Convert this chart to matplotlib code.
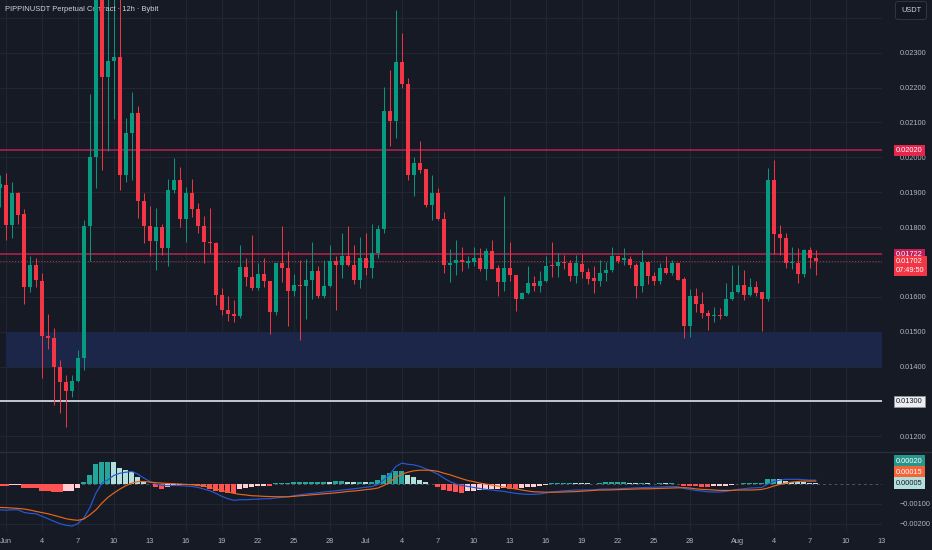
import matplotlib
matplotlib.use("Agg")
import matplotlib.pyplot as plt
import matplotlib.dates as mdates
from matplotlib.lines import Line2D
from matplotlib.patches import Rectangle
from matplotlib.transforms import blended_transform_factory
import numpy as np
import pandas as pd

plt.rcParams['font.family'] = ['Liberation Sans', 'DejaVu Sans']

# 12h candles, first one 31 May 12:00 (only half visible)
opens = [0.01912, 0.01921, 0.01806, 0.01899, 0.01838, 0.01628, 0.01690, 0.01646, 0.01488, 0.01481,
         0.01400, 0.01355, 0.01329, 0.01360, 0.01424, 0.01804, 0.02000, 0.02520, 0.02231, 0.02277,
         0.02287, 0.01948, 0.02069, 0.02128, 0.01875, 0.01804, 0.01759, 0.01799, 0.01740, 0.01905,
         0.01934, 0.01823, 0.01899, 0.01852, 0.01804, 0.01756, 0.01753, 0.01606, 0.01563, 0.01550,
         0.01545, 0.01685, 0.01658, 0.01625, 0.01666, 0.01644, 0.01555, 0.01697, 0.01682, 0.01618,
         0.01634, 0.01632, 0.01647, 0.01673, 0.01603, 0.01632, 0.01704, 0.01690, 0.01718, 0.01692,
         0.01647, 0.01712, 0.01682, 0.01725, 0.01795, 0.02133, 0.02105, 0.02274, 0.02210, 0.01948,
         0.01983, 0.01966, 0.01864, 0.01897, 0.01823, 0.01692, 0.01698, 0.01706, 0.01698, 0.01701,
         0.01710, 0.01679, 0.01732, 0.01682, 0.01641, 0.01682, 0.01663, 0.01593, 0.01611, 0.01639,
         0.01632, 0.01644, 0.01689, 0.01687, 0.01701, 0.01698, 0.01660, 0.01695, 0.01670, 0.01654,
         0.01644, 0.01668, 0.01676, 0.01716, 0.01706, 0.01708, 0.01692, 0.01632, 0.01701, 0.01660,
         0.01644, 0.01682, 0.01668, 0.01697, 0.01651, 0.01515, 0.01603, 0.01580, 0.01553, 0.01544,
         0.01549, 0.01546, 0.01594, 0.01613, 0.01634, 0.01606, 0.01628, 0.01613, 0.01593, 0.01935,
         0.01781, 0.01768, 0.01697, 0.01697, 0.01666, 0.01735, 0.01711]
highs = [0.01949, 0.01954, 0.01928, 0.01900, 0.01851, 0.01718, 0.01711, 0.01668, 0.01551, 0.01510,
         0.01418, 0.01377, 0.01377, 0.01448, 0.01821, 0.02182, 0.02560, 0.02580, 0.02480, 0.02490,
         0.02460, 0.02112, 0.02188, 0.02147, 0.01899, 0.01861, 0.01854, 0.01809, 0.01937, 0.01997,
         0.01972, 0.01916, 0.01937, 0.01868, 0.01832, 0.01854, 0.01756, 0.01625, 0.01603, 0.01591,
         0.01749, 0.01711, 0.01778, 0.01698, 0.01711, 0.01646, 0.01697, 0.01802, 0.01730, 0.01666,
         0.01706, 0.01708, 0.01756, 0.01687, 0.01706, 0.01749, 0.01716, 0.01783, 0.01802, 0.01749,
         0.01771, 0.01783, 0.01808, 0.01806, 0.02201, 0.02251, 0.02422, 0.02356, 0.02226, 0.02002,
         0.02047, 0.01966, 0.01950, 0.01911, 0.01843, 0.01737, 0.01762, 0.01744, 0.01718, 0.01742,
         0.01740, 0.01740, 0.01762, 0.01692, 0.01888, 0.01756, 0.01663, 0.01613, 0.01689, 0.01660,
         0.01673, 0.01716, 0.01756, 0.01727, 0.01720, 0.01706, 0.01720, 0.01723, 0.01682, 0.01687,
         0.01706, 0.01701, 0.01744, 0.01716, 0.01740, 0.01718, 0.01697, 0.01733, 0.01701, 0.01670,
         0.01697, 0.01716, 0.01706, 0.01697, 0.01658, 0.01622, 0.01625, 0.01613, 0.01563, 0.01572,
         0.01568, 0.01639, 0.01692, 0.01692, 0.01677, 0.01654, 0.01644, 0.01613, 0.01969, 0.01993,
         0.01806, 0.01783, 0.01744, 0.01740, 0.01737, 0.01744, 0.01735]
lows = [0.01857, 0.01763, 0.01768, 0.01810, 0.01580, 0.01613, 0.01628, 0.01367, 0.01450, 0.01291,
        0.01267, 0.01227, 0.01313, 0.01355, 0.01389, 0.01704, 0.01911, 0.01964, 0.02017, 0.02110,
        0.01907, 0.01928, 0.01935, 0.01826, 0.01754, 0.01718, 0.01677, 0.01720, 0.01687, 0.01897,
        0.01800, 0.01756, 0.01830, 0.01783, 0.01698, 0.01725, 0.01577, 0.01549, 0.01532, 0.01527,
        0.01539, 0.01630, 0.01620, 0.01620, 0.01628, 0.01493, 0.01549, 0.01641, 0.01515, 0.01601,
        0.01477, 0.01536, 0.01593, 0.01596, 0.01596, 0.01628, 0.01563, 0.01654, 0.01687, 0.01637,
        0.01625, 0.01663, 0.01654, 0.01711, 0.01784, 0.02031, 0.02055, 0.02198, 0.01935, 0.01889,
        0.01956, 0.01857, 0.01819, 0.01819, 0.01668, 0.01641, 0.01663, 0.01673, 0.01682, 0.01689,
        0.01675, 0.01649, 0.01679, 0.01603, 0.01618, 0.01644, 0.01558, 0.01593, 0.01609, 0.01618,
        0.01613, 0.01641, 0.01658, 0.01658, 0.01679, 0.01644, 0.01639, 0.01654, 0.01637, 0.01611,
        0.01630, 0.01644, 0.01670, 0.01697, 0.01692, 0.01682, 0.01596, 0.01615, 0.01637, 0.01634,
        0.01637, 0.01666, 0.01663, 0.01647, 0.01482, 0.01485, 0.01555, 0.01539, 0.01506, 0.01529,
        0.01537, 0.01546, 0.01592, 0.01611, 0.01592, 0.01601, 0.01603, 0.01501, 0.01587, 0.01723,
        0.01720, 0.01682, 0.01679, 0.01639, 0.01658, 0.01682, 0.01663]
closes = [0.01924, 0.01806, 0.01899, 0.01835, 0.01628, 0.01690, 0.01647, 0.01488, 0.01481, 0.01400,
          0.01355, 0.01329, 0.01360, 0.01424, 0.01804, 0.02000, 0.02520, 0.02231, 0.02277, 0.02287,
          0.01948, 0.02069, 0.02128, 0.01875, 0.01804, 0.01759, 0.01799, 0.01740, 0.01905, 0.01934,
          0.01823, 0.01899, 0.01852, 0.01804, 0.01756, 0.01753, 0.01606, 0.01563, 0.01550, 0.01545,
          0.01685, 0.01658, 0.01625, 0.01666, 0.01644, 0.01555, 0.01697, 0.01682, 0.01618, 0.01634,
          0.01632, 0.01647, 0.01673, 0.01603, 0.01632, 0.01704, 0.01690, 0.01716, 0.01690, 0.01647,
          0.01712, 0.01682, 0.01725, 0.01795, 0.02133, 0.02105, 0.02274, 0.02210, 0.01948, 0.01983,
          0.01964, 0.01864, 0.01897, 0.01823, 0.01692, 0.01698, 0.01706, 0.01700, 0.01703, 0.01710,
          0.01679, 0.01732, 0.01679, 0.01641, 0.01682, 0.01662, 0.01593, 0.01611, 0.01639, 0.01632,
          0.01646, 0.01689, 0.01687, 0.01701, 0.01697, 0.01660, 0.01697, 0.01670, 0.01651, 0.01644,
          0.01668, 0.01676, 0.01716, 0.01704, 0.01711, 0.01692, 0.01632, 0.01701, 0.01660, 0.01644,
          0.01682, 0.01668, 0.01697, 0.01649, 0.01515, 0.01603, 0.01580, 0.01553, 0.01544, 0.01549,
          0.01546, 0.01594, 0.01613, 0.01634, 0.01606, 0.01628, 0.01611, 0.01593, 0.01935, 0.01781,
          0.01768, 0.01697, 0.01699, 0.01666, 0.01735, 0.01711, 0.01702]

# MACD panel (one value per candle)
hist = [-0.00010, -0.00012, -0.00005, -0.00003, -0.00018, -0.00019, -0.00020, -0.00034, -0.00037, -0.00040,
        -0.00041, -0.00037, -0.00034, -0.00020, 0.00013, 0.00044, 0.00100, 0.00110, 0.00114, 0.00110,
        0.00080, 0.00072, 0.00060, 0.00034, 0.00013, 0.00002, -0.00013, -0.00024, -0.00017, -0.00007,
        -0.00005, -0.00004, -0.00003, -0.00008, -0.00017, -0.00024, -0.00034, -0.00040, -0.00044, -0.00045,
        -0.00027, -0.00020, -0.00017, -0.00012, -0.00008, -0.00012, 0.00003, 0.00005, 0.00006, 0.00008,
        0.00009, 0.00010, 0.00011, 0.00012, 0.00013, 0.00013, 0.00014, 0.00015, 0.00013, 0.00010,
        0.00011, 0.00010, 0.00013, 0.00020, 0.00044, 0.00054, 0.00067, 0.00068, 0.00047, 0.00034,
        0.00022, 0.00010, 0.00001, -0.00017, -0.00029, -0.00037, -0.00042, -0.00043, -0.00037, -0.00034,
        -0.00029, -0.00028, -0.00027, -0.00024, -0.00020, -0.00024, -0.00027, -0.00020, -0.00017, -0.00013,
        -0.00010, -0.00007, 0.00003, 0.00004, 0.00006, 0.00007, 0.00007, 0.00005, 0.00003, 0.00002,
        0.00006, 0.00008, 0.00009, 0.00010, 0.00011, 0.00007, 0.00005, 0.00006, 0.00003, 0.00002,
        0.00003, 0.00003, 0.00004, 0.00000, -0.00008, -0.00010, -0.00012, -0.00013, -0.00014, -0.00011,
        -0.00010, -0.00008, -0.00004, 0.00002, 0.00003, 0.00004, 0.00005, 0.00006, 0.00024, 0.00025,
        0.00024, 0.00017, 0.00012, 0.00010, 0.00008, 0.00007, 0.00005]
macd = [-0.00130, -0.00132, -0.00130, -0.00130, -0.00143, -0.00148, -0.00150, -0.00163, -0.00175, -0.00188,
        -0.00200, -0.00208, -0.00212, -0.00200, -0.00170, -0.00118, -0.00045, 0.00005, 0.00022, 0.00044,
        0.00055, 0.00060, 0.00064, 0.00050, 0.00030, 0.00013, 0.00000, -0.00007, -0.00008, -0.00007,
        -0.00008, -0.00010, -0.00012, -0.00017, -0.00025, -0.00034, -0.00047, -0.00062, -0.00074, -0.00082,
        -0.00079, -0.00079, -0.00077, -0.00076, -0.00074, -0.00074, -0.00070, -0.00067, -0.00064, -0.00059,
        -0.00054, -0.00050, -0.00047, -0.00044, -0.00040, -0.00037, -0.00034, -0.00030, -0.00027, -0.00024,
        -0.00020, -0.00016, -0.00012, -0.00003, 0.00022, 0.00050, 0.00089, 0.00106, 0.00100, 0.00097,
        0.00089, 0.00077, 0.00064, 0.00050, 0.00030, 0.00013, 0.00000, -0.00007, -0.00012, -0.00017,
        -0.00022, -0.00027, -0.00030, -0.00034, -0.00037, -0.00042, -0.00047, -0.00050, -0.00052, -0.00052,
        -0.00050, -0.00045, -0.00040, -0.00037, -0.00034, -0.00032, -0.00030, -0.00030, -0.00029, -0.00029,
        -0.00026, -0.00025, -0.00025, -0.00024, -0.00022, -0.00021, -0.00019, -0.00018, -0.00017, -0.00016,
        -0.00015, -0.00014, -0.00013, -0.00013, -0.00022, -0.00027, -0.00032, -0.00035, -0.00039, -0.00040,
        -0.00040, -0.00037, -0.00032, -0.00027, -0.00024, -0.00020, -0.00019, -0.00017, 0.00000, 0.00013,
        0.00020, 0.00024, 0.00024, 0.00024, 0.00022, 0.00020, 0.00020]
signal = [-0.00118, -0.00119, -0.00121, -0.00123, -0.00126, -0.00131, -0.00138, -0.00144, -0.00150, -0.00158,
          -0.00166, -0.00175, -0.00180, -0.00183, -0.00176, -0.00155, -0.00130, -0.00096, -0.00067, -0.00045,
          -0.00025, -0.00008, 0.00005, 0.00013, 0.00013, 0.00010, 0.00007, 0.00005, 0.00003, 0.00002,
          0.00000, -0.00002, -0.00003, -0.00007, -0.00010, -0.00017, -0.00024, -0.00032, -0.00040, -0.00047,
          -0.00052, -0.00055, -0.00059, -0.00060, -0.00062, -0.00063, -0.00064, -0.00064, -0.00064, -0.00062,
          -0.00059, -0.00057, -0.00054, -0.00052, -0.00049, -0.00047, -0.00044, -0.00041, -0.00037, -0.00035,
          -0.00032, -0.00028, -0.00025, -0.00020, -0.00007, 0.00010, 0.00034, 0.00050, 0.00060, 0.00067,
          0.00070, 0.00070, 0.00069, 0.00064, 0.00055, 0.00047, 0.00037, 0.00027, 0.00018, 0.00012,
          0.00005, 0.00000, -0.00005, -0.00010, -0.00015, -0.00020, -0.00025, -0.00030, -0.00035, -0.00039,
          -0.00040, -0.00041, -0.00041, -0.00041, -0.00040, -0.00039, -0.00038, -0.00036, -0.00034, -0.00032,
          -0.00030, -0.00030, -0.00029, -0.00028, -0.00027, -0.00026, -0.00025, -0.00024, -0.00024, -0.00023,
          -0.00022, -0.00021, -0.00020, -0.00019, -0.00018, -0.00020, -0.00024, -0.00027, -0.00028, -0.00030,
          -0.00032, -0.00032, -0.00032, -0.00030, -0.00030, -0.00030, -0.00029, -0.00027, -0.00020, -0.00010,
          -0.00002, 0.00005, 0.00010, 0.00013, 0.00015, 0.00015, 0.00015]

# levels drawn on the chart
resistance = 0.02020
pivot = 0.01722
support = 0.01300
demand_zone = (0.01400, 0.01500)
last_price = 0.01702
countdown = "07:49:50"
macd_labels = ["0.00020", "0.00015", "0.00005"]

# 0.017 and 0.013 sit under the price boxes, 0.024 under the USDT badge
price_ticks = [0.012, 0.013, 0.014, 0.015, 0.016, 0.017, 0.018, 0.019, 0.020, 0.021, 0.022, 0.023, 0.024]
price_tick_labels = ["0.01200", "", "0.01400", "0.01500", "0.01600", "", "0.01800",
                     "0.01900", "0.02000", "0.02100", "0.02200", "0.02300", ""]
macd_ticks = [-0.002, -0.001]
macd_tick_labels = ["\u22120.00200", "\u22120.00100"]
date_ticks = ["2025-06-01", "2025-06-04", "2025-06-07", "2025-06-10", "2025-06-13", "2025-06-16",
              "2025-06-19", "2025-06-22", "2025-06-25", "2025-06-28", "2025-07-01", "2025-07-04",
              "2025-07-07", "2025-07-10", "2025-07-13", "2025-07-16", "2025-07-19", "2025-07-22",
              "2025-07-25", "2025-07-28", "2025-08-01", "2025-08-04", "2025-08-07", "2025-08-10",
              "2025-08-13"]
date_tick_labels = ["Jun", "4", "7", "10", "13", "16", "19", "22", "25", "28", "Jul", "4", "7", "10",
                    "13", "16", "19", "22", "25", "28", "Aug", "4", "7", "10", "13"]

BG = "#161a25"
GRID = "#232733"
TXT = "#b2b5be"
UP = "#089981"
DOWN = "#f23645"
FS = 5.3

times = pd.date_range("2025-05-31 12:00", periods=len(opens), freq="12h")
x = mdates.date2num(times)
xt = mdates.date2num(pd.to_datetime(date_ticks))
o, h, l, c = map(np.array, (opens, highs, lows, closes))

fig = plt.figure(figsize=(9.32, 5.5), dpi=100, facecolor=BG)
W, H = 932, 550
ax = fig.add_axes([0, 98 / H, 882 / W, 452 / H], facecolor=BG)
mx = fig.add_axes([0, 19 / H, 882 / W, 79 / H], facecolor=BG, sharex=ax)

# ---- price panel
ax.set_ylim(0.01155, 0.02451)
ax.set_xlim(mdates.date2num(pd.Timestamp("2025-05-31 12:00")),
            mdates.date2num(pd.Timestamp("2025-08-13 00:30")))

ax.add_patch(Rectangle((xt[0], demand_zone[0]), xt[-1] - xt[0], demand_zone[1] - demand_zone[0],
                       facecolor="#1b2649", edgecolor="none", zorder=1))
ax.axhline(resistance, color="#a8234f", lw=1.2, zorder=2)
ax.axhline(pivot, color="#a8234f", lw=1.2, zorder=2)
ax.axhline(support, color="#d1d4dc", lw=1.3, zorder=2)
ax.axhline(last_price, color=DOWN, lw=0.7, ls=(0, (1, 2)), alpha=0.8, zorder=2)

cols = np.where(c >= o, UP, DOWN)
ax.vlines(x, l, h, colors=cols, lw=0.7, zorder=3)
ax.bar(x, np.maximum(np.abs(c - o), 0.00003), bottom=np.minimum(o, c), width=0.34,
       color=cols, linewidth=0, zorder=4)

ax.set_yticks(price_ticks, price_tick_labels)
ax.yaxis.tick_right()
ax.set_xticks(xt)
ax.tick_params(axis="y", length=0, pad=13, labelsize=FS, labelcolor=TXT)
ax.tick_params(axis="x", length=0, labelbottom=False)
ax.grid(True, color=GRID, lw=0.7)
ax.set_axisbelow(True)
for s in ax.spines.values():
    s.set_visible(False)

ax.text(0.006, 0.978, "PIPPINUSDT Perpetual Contract \u00b7 12h \u00b7 Bybit", transform=ax.transAxes,
        color="#d1d4dc", fontsize=5.4, va="center", ha="left")

tr = blended_transform_factory(ax.transAxes, ax.transData)
lbl = dict(transform=tr, fontsize=FS, ha="left", va="center", zorder=20, clip_on=False)
ax.text(1.016, resistance, f"{resistance:.5f}", color="white",
        bbox=dict(boxstyle="square,pad=0.3", fc="#e3264e", ec="none"), **lbl)
ax.text(1.016, pivot, f"{pivot:.5f}", color="white",
        bbox=dict(boxstyle="square,pad=0.3", fc="#c41f58", ec="none"), **lbl)
ax.annotate(f"{last_price:.5f}\n{countdown}", (1.016, last_price), xytext=(0, -3.4),
            textcoords="offset points", xycoords=tr, color="white", fontsize=FS, ha="left",
            va="center", linespacing=1.3, zorder=20, annotation_clip=False,
            bbox=dict(boxstyle="square,pad=0.3", fc=DOWN, ec="none"))
ax.text(1.016, support, f"{support:.5f}", color="#131722",
        bbox=dict(boxstyle="square,pad=0.3", fc="#eceef2", ec="#9598a1", lw=0.5), **lbl)

fig.text(911 / W, 1 - 10.5 / H, "USDT", color="#d1d4dc", fontsize=FS, ha="center", va="center",
         bbox=dict(boxstyle="round,pad=0.75,rounding_size=0.4", fc="#131722", ec="#363a45", lw=0.6))

# ---- MACD panel
hcols = []
for i, v in enumerate(hist):
    prev = hist[i - 1] if i > 0 else v
    if v >= 0:
        hcols.append("#26a69a" if v > prev else "#b2dfdb")
    else:
        hcols.append("#ffcdd2" if v > prev else "#ff5252")
mx.set_ylim(-0.00237, 0.00162)
mx.axhline(0, color="#50535e", lw=0.7, ls=(0, (3, 3)), zorder=1)
mx.bar(x, hist, width=0.42, color=hcols, linewidth=0, zorder=2)
mx.plot(x, macd, color="#2659d6", lw=0.85, zorder=3)
mx.plot(x, signal, color="#e8661c", lw=0.85, zorder=3)

mx.set_yticks(macd_ticks, macd_tick_labels)
mx.yaxis.tick_right()
mx.set_xticks(xt, date_tick_labels)
mx.tick_params(axis="y", length=0, pad=13, labelsize=FS, labelcolor=TXT)
mx.tick_params(axis="x", length=0, pad=5, labelsize=FS, labelcolor=TXT)
mx.grid(True, color=GRID, lw=0.7)
mx.set_axisbelow(True)
for s in mx.spines.values():
    s.set_visible(False)

mtr = blended_transform_factory(mx.transAxes, mx.transData)
box_fc = ["#26958c", "#f2643a", "#b2dfdb"]
box_tc = ["white", "white", "#131722"]
for k, (txt, fc, tc) in enumerate(zip(macd_labels, box_fc, box_tc)):
    mx.annotate(txt, (1.016, float(macd_labels[-1])), xytext=(0, 7.9 * (2 - k)),
                textcoords="offset points", xycoords=mtr, color=tc, fontsize=FS, ha="left",
                va="center", zorder=20, annotation_clip=False,
                bbox=dict(boxstyle="square,pad=0.3", fc=fc, ec="none"))

fig.add_artist(Line2D([0, 1], [98 / H, 98 / H], color="#2a2e39", lw=1.0))

fig.savefig("out.png", dpi=100, facecolor=BG)
